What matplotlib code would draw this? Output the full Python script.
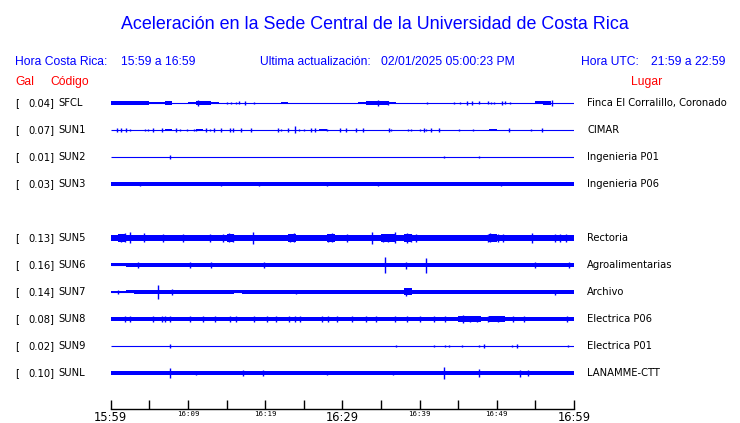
import numpy as np
import matplotlib
matplotlib.use('Agg')
import matplotlib.pyplot as plt
import matplotlib.transforms as mtransforms

# Estaciones (la fila vacía corresponde a SUN4, sin datos)
codes = ['SFCL', 'SUN1', 'SUN2', 'SUN3', 'SUN5', 'SUN6', 'SUN7', 'SUN8', 'SUN9', 'SUNL']
gal = [0.04, 0.07, 0.01, 0.03, 0.13, 0.16, 0.14, 0.08, 0.02, 0.10]
places = ['Finca El Corralillo, Coronado', 'CIMAR', 'Ingenieria P01', 'Ingenieria P06',
          'Rectoria', 'Agroalimentarias', 'Archivo', 'Electrica P06', 'Electrica P01',
          'LANAMME-CTT']
slots = [0, 1, 2, 3, 5, 6, 7, 8, 9, 10]

tick_min = list(range(0, 61, 5))
tick_labels = ['15:59', '', '16:09', '', '16:19', '', '16:29', '', '16:39', '', '16:49', '', '16:59']
big_labels = ['15:59', '16:29', '16:59']

# envolvente (media amplitud, px) por minuto, 60 valores
sfcl_env = [1.7] * 5 + [0.7, 1.2, 1.7, 0, 0, 1.2, 1.7, 1.7, 1.0] + [0] * 8 + [1.0] + [0] * 9 + \
           [0.7, 1.7, 1.7, 1.7, 1.4] + [0] * 18 + [1.5, 1.7, 0, 0, 0]
sun1_env = [0] * 7 + [1.0] + [0] * 3 + [0.8] + [0] * 15 + [1.0] + [0] * 21 + [1.0] + [0] * 10
sun2_env = [0] * 60
sun3_env = [2.0] * 26 + [1.7] + [2.0] * 15 + [1.7] + [2.0] * 17
sun5_env = [2.8, 3.6, 3.4, 2.8, 3.0, 3.0, 3.3, 3.3, 3.3, 3.4,
            3.0, 2.8, 3.0, 3.1, 3.4, 3.8, 3.0, 2.9, 3.0, 2.8,
            2.9, 2.9, 3.0, 3.6, 3.4, 3.0, 2.9, 3.0, 3.8, 3.3,
            3.4, 3.0, 3.0, 3.4, 3.3, 3.6, 3.6, 3.0, 3.8, 3.4,
            3.4, 3.0, 2.9, 2.9, 2.9, 2.9, 3.0, 3.0, 3.4, 3.6,
            3.4, 3.4, 3.0, 2.9, 3.3, 3.0, 3.0, 3.3, 3.0, 3.3]
sun6_env = [1.5, 1.5, 1.6, 2.3, 1.9, 2.3, 1.9, 1.7, 1.7, 1.9,
            2.4, 1.9, 2.4, 2.3, 1.7, 1.7, 1.7, 1.7, 1.7, 1.9,
            2.3] + [1.7] * 14 + [1.9] + [1.7] * 10 + [2.1] + [1.7] * 7 + [2.3, 2.1, 1.7, 1.7, 1.7, 1.7]
sun7_env = [1.2, 1.2, 1.5, 1.8, 2.0, 2.0, 2.3, 2.0, 2.0, 2.0,
            1.8, 2.0, 1.9, 1.9, 1.9, 1.9, 1.5, 1.9, 1.9, 1.9,
            1.9, 1.9, 2.1] + [1.9] * 15 + [3.5, 2.1] + [1.9] * 11 + [2.1] + [1.9] * 8
sun8_env = [2.0] * 38 + [2.2, 2.2, 2.2, 2.0, 2.0, 2.0] + [2.3, 3.0, 2.8, 2.5, 2.3, 2.6, 2.5, 2.2, 2.3] + [2.0] * 7
sun9_env = [0] * 60
sunl_env = [1.6] * 16 + [1.9, 2.3, 1.6, 1.9] + [1.6] * 24 + [1.9] + [1.6] * 15

# picos aislados: (minuto, media amplitud px)
sfcl_spk = [(11.3, 2.8), (15.0, 1.3), (15.6, 1.3), (16.2, 1.3), (16.6, 1.5), (17.4, 1.7), (18.6, 1.3),
            (34.6, 2.8), (35.9, 1.8), (41.0, 1.3), (44.4, 1.3), (45.3, 1.3), (46.2, 1.7), (46.8, 1.7),
            (47.7, 1.5), (48.9, 1.5), (49.2, 1.3), (49.7, 1.3), (50.7, 1.7), (51.0, 1.5), (51.7, 1.3),
            (57.1, 2.8)]
sun1_spk = [(0.86, 1.7), (1.38, 1.7), (2.02, 1.7), (2.45, 1.3), (4.39, 1.3), (4.86, 1.3), (5.51, 1.7),
            (6.67, 1.7), (8.47, 1.7), (8.95, 1.3), (9.89, 1.3), (10.75, 1.3), (11.05, 1.3), (12.34, 1.7),
            (12.82, 1.3), (13.33, 1.7), (14.24, 1.7), (15.48, 1.7), (15.78, 1.7), (16.86, 1.7),
            (18.15, 1.7), (21.72, 1.7), (22.06, 1.3), (22.92, 1.7), (23.87, 3.5), (24.43, 1.3),
            (25.03, 1.3), (25.89, 1.7), (26.45, 1.7), (27.96, 1.3), (29.76, 1.7), (30.41, 1.7),
            (31.8, 1.7), (32.73, 1.7), (36.04, 1.7), (36.34, 1.3), (38.49, 1.3), (38.92, 1.3),
            (40.0, 1.3), (40.56, 1.7), (40.86, 1.3), (41.51, 1.7), (42.49, 1.7), (45.08, 1.3),
            (46.88, 1.3), (51.53, 1.7), (54.49, 1.3), (55.91, 1.7)]
sun2_spk = [(7.66, 2.2), (43.2, 1.4), (47.66, 1.4)]
sun3_spk = [(3.8, 2.3), (14.3, 2.3), (19.2, 2.2), (28.0, 2.3), (34.6, 2.2), (50.5, 2.2)]
sun5_spk = [(2.45, 5.5), (4.3, 4.5), (18.4, 6.0), (23.8, 4.5), (28.6, 4.5), (33.8, 6.0), (36.8, 5.5),
            (38.4, 4.8), (49.1, 4.5), (50.2, 4.0), (54.5, 5.0), (58.2, 3.8),
            (1.3, 4.2), (1.8, 4.5), (6.8, 4.0), (9.3, 4.0), (12.8, 3.8), (14.6, 4.2), (15.3, 4.5),
            (15.8, 4.0), (23.2, 4.0), (28.2, 4.0), (30.6, 3.8), (35.3, 4.3), (35.9, 4.0),
            (38.9, 4.2), (39.6, 4.0), (48.8, 4.0), (50.8, 3.8), (57.6, 3.8), (59.0, 3.8)]
sun6_spk = [(35.5, 8.3), (40.8, 7.5), (38.2, 3.5), (55.0, 3.0), (59.4, 3.0), (3.6, 2.6),
            (10.3, 2.8), (19.8, 2.8), (13.0, 2.6)]
sun7_spk = [(6.15, 7.0), (38.3, 4.2), (8.0, 2.6), (24.0, 2.4), (57.5, 2.5), (1.0, 1.8)]
sun8_spk = [(1.85, 2.8), (2.45, 2.8), (5.5, 2.8), (6.58, 2.8), (7.0, 2.8), (7.74, 2.8), (10.3, 2.8),
            (11.9, 2.8), (13.5, 2.8), (15.5, 2.8), (16.2, 2.8), (18.5, 2.8), (20.3, 2.8), (21.4, 2.8),
            (23.1, 2.8), (23.9, 2.8), (24.5, 2.8), (27.4, 2.8), (28.1, 2.8), (29.3, 2.8), (31.3, 2.8),
            (33.0, 2.8), (34.3, 2.8), (36.8, 2.8), (38.4, 3.2), (40.1, 3.2), (41.9, 2.8), (43.3, 3.2),
            (45.6, 4.5), (46.5, 3.2), (47.4, 3.2), (48.8, 3.2), (50.1, 3.2), (52.1, 2.8), (53.5, 2.8),
            (59.1, 2.8)]
sun9_spk = [(7.66, 1.6), (37.0, 1.4), (41.9, 1.4), (43.3, 1.2), (43.8, 1.4), (45.5, 1.4),
            (47.7, 1.4), (48.4, 1.6), (52.0, 1.4), (52.6, 1.6), (59.2, 1.4)]
sunl_spk = [(7.66, 5.3), (17.1, 2.8), (19.7, 3.2), (43.2, 5.5), (47.7, 4.0), (53.0, 3.5),
            (54.0, 2.8), (36.6, 2.3), (11.0, 2.0), (28.0, 2.0)]

envs = [sfcl_env, sun1_env, sun2_env, sun3_env, sun5_env, sun6_env, sun7_env, sun8_env, sun9_env, sunl_env]
spks = [sfcl_spk, sun1_spk, sun2_spk, sun3_spk, sun5_spk, sun6_spk, sun7_spk, sun8_spk, sun9_spk, sunl_spk]

W, H = 740, 423
ROW = 27.0  # px entre filas
BLUE = '#0000ff'
RED = '#ff0000'

fig = plt.figure(figsize=(W / 100, H / 100), dpi=100)
fig.patch.set_facecolor('white')

ax_left, ax_right, ax_top, ax_bot = 110.7, 574.0, 85.0, 409.0
ax = fig.add_axes([ax_left / W, 1 - ax_bot / H, (ax_right - ax_left) / W, (ax_bot - ax_top) / H])
ax.set_xlim(0, 60)
ax.set_ylim(-(ax_bot - 103) / ROW, (103 - ax_top) / ROW)

minutes = np.arange(61)
for env, spk, slot in zip(envs, spks, slots):
    y0 = -slot
    e = np.array(env + [env[-1]]) / ROW
    ax.plot(minutes, np.full(61, y0), color=BLUE, lw=0.8, solid_capstyle='butt')
    ax.fill_between(minutes, y0 - e, y0 + e, step='post', color=BLUE, lw=0)
    if spk:
        t = np.array([s[0] for s in spk])
        h = np.array([s[1] for s in spk]) / ROW
        ax.vlines(t, y0 - h, y0 + h, color=BLUE, lw=1.0)

for s in ['top', 'left', 'right']:
    ax.spines[s].set_visible(False)
ax.spines['bottom'].set_linewidth(1.0)
ax.set_yticks([])
ax.set_xticks(tick_min)
ax.set_xticklabels(tick_labels)
ax.tick_params(axis='x', direction='in', length=6.5, width=1.0, pad=1.5, colors='black')
for lab in ax.get_xticklabels():
    if lab.get_text() in big_labels:
        lab.set_fontsize(8.3)
        lab.set_family('DejaVu Sans')
    else:
        lab.set_fontsize(5.3)
        lab.set_family('DejaVu Sans Mono')

# etiquetas por fila
tr = mtransforms.blended_transform_factory(fig.transFigure, ax.transData)
for g, c, p, slot in zip(gal, codes, places, slots):
    y0 = -slot
    ax.text(15 / W, y0, '[', transform=tr, fontsize=7.2, va='center', ha='left', family='DejaVu Sans')
    ax.text(54.5 / W, y0, '%.2f]' % g, transform=tr, fontsize=7.2, va='center', ha='right', family='DejaVu Sans')
    ax.text(58 / W, y0, c, transform=tr, fontsize=7.2, va='center', ha='left', family='DejaVu Sans')
    ax.text(587 / W, y0, p, transform=tr, fontsize=7.2, va='center', ha='left', family='DejaVu Sans')

# encabezado
hf = 'Liberation Sans'
fig.text(375 / W, 1 - 29 / H, 'Aceleración en la Sede Central de la Universidad de Costa Rica',
         ha='center', va='baseline', fontsize=12.9, color=BLUE, family=hf)
fig.text(15 / W, 1 - 65 / H, 'Hora Costa Rica:', fontsize=8.7, color=BLUE, family=hf, va='baseline')
fig.text(120.7 / W, 1 - 65 / H, '15:59 a 16:59', fontsize=8.7, color=BLUE, family=hf, va='baseline')
fig.text(260 / W, 1 - 65 / H, 'Ultima actualización:', fontsize=8.7, color=BLUE, family=hf, va='baseline')
fig.text(380.7 / W, 1 - 65 / H, '02/01/2025 05:00:23 PM', fontsize=8.7, color=BLUE, family=hf, va='baseline')
fig.text(580.7 / W, 1 - 65 / H, 'Hora UTC:', fontsize=8.7, color=BLUE, family=hf, va='baseline')
fig.text(650.7 / W, 1 - 65 / H, '21:59 a 22:59', fontsize=8.7, color=BLUE, family=hf, va='baseline')
fig.text(15 / W, 1 - 85 / H, 'Gal', fontsize=8.7, color=RED, family=hf, va='baseline')
fig.text(50 / W, 1 - 85 / H, 'Código', fontsize=8.7, color=RED, family=hf, va='baseline')
fig.text(630.7 / W, 1 - 85 / H, 'Lugar', fontsize=8.7, color=RED, family=hf, va='baseline')

fig.savefig('out.png', dpi=100, facecolor='white')
